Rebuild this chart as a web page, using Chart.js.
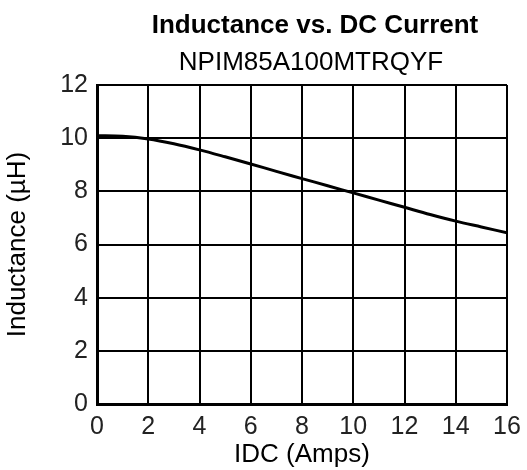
<!DOCTYPE html>
<html>
<head>
<meta charset="utf-8">
<script src="https://cdn.jsdelivr.net/npm/chart.js@4/dist/chart.umd.min.js"></script>
<style>
  html, body { margin: 0; padding: 0; background: #fff; }
  #wrap { width: 527px; height: 470px; position: relative; }
</style>
</head>
<body>
<div id="wrap"><canvas id="c" width="527" height="470"></canvas></div>
<script>
const chartTitle = "Inductance vs. DC Current";
const chartSubtitle = "NPIM85A100MTRQYF";
const xAxisTitle = "IDC (Amps)";
const yAxisTitle = "Inductance (\u00B5H)";
const currentAmps = [0, 1, 2, 3, 4, 5, 6, 7, 8, 9, 10, 11, 12, 13, 14, 15, 16];
const inductanceUH = [10.09, 10.07, 9.97, 9.79, 9.56, 9.30, 9.03, 8.75, 8.48, 8.21, 7.94, 7.67, 7.40, 7.13, 6.88, 6.66, 6.44];
const xTickValues = [0, 2, 4, 6, 8, 10, 12, 14, 16];
const yTickValues = [0, 2, 4, 6, 8, 10, 12];

const FONT = "'Liberation Sans', Arial, Helvetica, sans-serif";

const titlePlugin = {
  id: 'titlePlugin',
  afterDraw(chart) {
    const ctx = chart.ctx;
    ctx.save();
    ctx.fillStyle = '#000';
    ctx.textAlign = 'center';
    ctx.textBaseline = 'alphabetic';
    ctx.font = 'bold 26px ' + FONT;
    ctx.fillText(chartTitle, 315, 33);
    ctx.font = '26px ' + FONT;
    ctx.fillText(chartSubtitle, 311, 70);
    ctx.restore();
  }
};

new Chart(document.getElementById('c'), {
  type: 'line',
  data: {
    datasets: [{
      data: currentAmps.map((x, i) => ({ x: x, y: inductanceUH[i] })),
      borderColor: '#000',
      borderWidth: 3,
      pointRadius: 0,
      fill: false,
      cubicInterpolationMode: 'monotone'
    }]
  },
  plugins: [titlePlugin],
  options: {
    responsive: false,
    animation: false,
    devicePixelRatio: 1,
    layout: { padding: { top: 85, left: 0, right: 20, bottom: 0 } },
    plugins: { legend: { display: false }, tooltip: { enabled: false }, title: { display: false } },
    scales: {
      x: {
        type: 'linear',
        min: 0, max: 16,
        afterFit(scale) { scale.height = 66; scale.paddingRight = 0; scale.paddingLeft = 0; },
        afterBuildTicks(scale) { scale.ticks = xTickValues.map(v => ({ value: v })); },
        grid: { color: '#000', lineWidth: 2, drawTicks: false },
        border: { display: true, color: '#000', width: 3 },
        ticks: { color: '#222', font: { family: FONT, size: 25 }, padding: 8, maxRotation: 0, autoSkip: false },
        title: { display: true, text: xAxisTitle, color: '#000', font: { family: FONT, size: 26 }, padding: 0 }
      },
      y: {
        type: 'linear',
        min: 0, max: 12,
        afterFit(scale) { scale.width = 97; scale.paddingTop = 0; scale.paddingBottom = 0; },
        afterBuildTicks(scale) { scale.ticks = yTickValues.map(v => ({ value: v })); },
        grid: { color: '#000', lineWidth: 2, drawTicks: false },
        border: { display: true, color: '#000', width: 3 },
        ticks: { color: '#222', font: { family: FONT, size: 25 }, padding: 9, autoSkip: false },
        title: { display: true, text: yAxisTitle, color: '#000', font: { family: FONT, size: 26 }, padding: { top: 2, bottom: 0 } }
      }
    }
  }
});
</script>
</body>
</html>
